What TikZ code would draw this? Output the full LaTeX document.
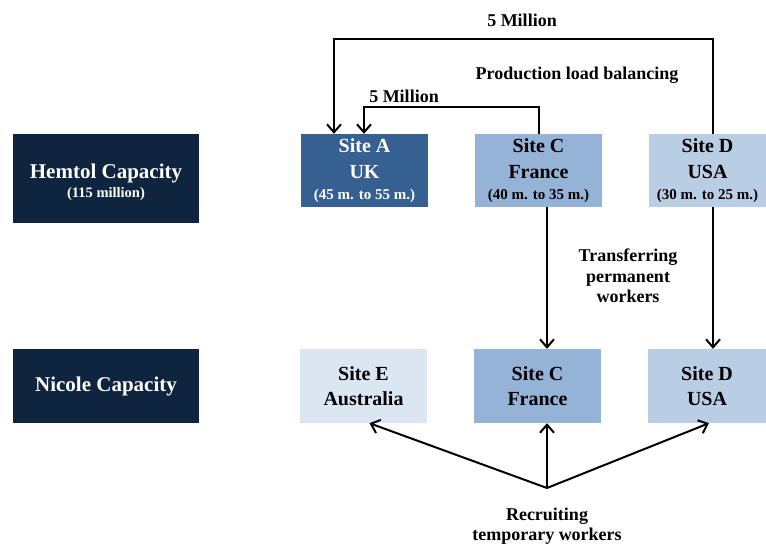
\documentclass[tikz,border=0pt]{standalone}
\usepackage{fontspec}
\setmainfont{Liberation Serif}
\usetikzlibrary{arrows.meta}
\definecolor{navy}{HTML}{0F243E}
\definecolor{blueA}{HTML}{376092}
\definecolor{blueC}{HTML}{95B3D7}
\definecolor{blueD}{HTML}{B9CDE5}
\definecolor{blueE}{HTML}{DCE6F2}
\newcommand{\sitefont}{\fontsize{20}{25}\selectfont}
\newcommand{\rangefont}{\fontsize{15}{19}\selectfont}
\newcommand{\labelfont}{\fontsize{18}{20.5}\selectfont}
\tikzset{
  box/.style={draw=none, inner sep=0pt, align=center},
  capbox/.style={box, fill=navy, text=white, minimum width=186pt},
  sitebox/.style={box, minimum width=127pt, font=\bfseries\sitefont},
  conn/.style={line width=2pt, draw=black},
  arr/.style={conn, -{Straight Barb[length=8pt,width=14pt,line width=2pt]}},
  txt/.style={inner sep=0pt, align=center, font=\bfseries\labelfont}
}
\begin{document}
\begin{tikzpicture}[x=1pt,y=-1pt]
\useasboundingbox (0,0) rectangle (766,544);
% capacity headings
\node[capbox, minimum height=89pt, font=\bfseries\fontsize{21}{19}\selectfont] (hemtol) at (106,178.5)
  {\rule{0pt}{22pt}Hemtol Capacity\\{\fontsize{14.5}{19}\selectfont (115 million)}};
\node[capbox, minimum height=74pt, font=\bfseries\fontsize{21}{25}\selectfont] (nicole) at (106,386)
  {Nicole Capacity};
% Hemtol sites
\node[sitebox, fill=blueA, text=white, minimum height=73pt] (siteA) at (364.5,170.5)
  {Site A\\[1pt]UK\\[-4pt]{\rangefont (45 m. to 55 m.)}};
\node[sitebox, fill=blueC, minimum height=73pt] (siteC1) at (538.5,170.5)
  {Site C\\[1pt]France\\[-4pt]{\rangefont (40 m. to 35 m.)}};
\node[sitebox, fill=blueD, minimum width=117pt, minimum height=73pt] (siteD1) at (707.5,170.5)
  {Site D\\[1pt]USA\\[-4pt]{\rangefont (30 m. to 25 m.)}};
% Nicole sites
\node[sitebox, fill=blueE, minimum height=74pt] (siteE) at (363.5,386)
  {Site E\\Australia};
\node[sitebox, fill=blueC, minimum height=74pt] (siteC2) at (537.5,386)
  {Site C\\France};
\node[sitebox, fill=blueD, minimum width=118pt, minimum height=74pt] (siteD2) at (707,386)
  {Site D\\USA};
% production load balancing
\draw[arr] ([xshift=5.5pt]siteD1.north) -- ++(0,-95) -| ([xshift=-30.5pt]siteA.north);
\draw[arr] ([xshift=0.5pt]siteC1.north) -- ++(0,-27) -| ([xshift=-0.5pt]siteA.north);
\node[txt] (m5a) at (522,20) {5 Million};
\node[txt] (m5b) at (404,96) {5 Million};
\node[txt] (plb) at (577,75) {Production load balancing};
% transferring permanent workers
\draw[arr] ([xshift=8.5pt]siteC1.south) -- ([xshift=9.5pt]siteC2.north);
\draw[arr] ([xshift=5.5pt]siteD1.south) -- ([xshift=6pt]siteD2.north);
\node[txt] (tpw) at (628,276) {Transferring\\permanent\\workers};
% recruiting temporary workers
\coordinate (rec) at (547,488);
\draw[arr] (rec) -- ([xshift=6pt]siteE.south);
\draw[arr] (rec) -- ([xshift=9.5pt]siteC2.south);
\draw[arr] (rec) -- ([xshift=2pt]siteD2.south);
\node[txt] (rtw) at (547,526) {Recruiting\\temporary workers};
\end{tikzpicture}
\end{document}
